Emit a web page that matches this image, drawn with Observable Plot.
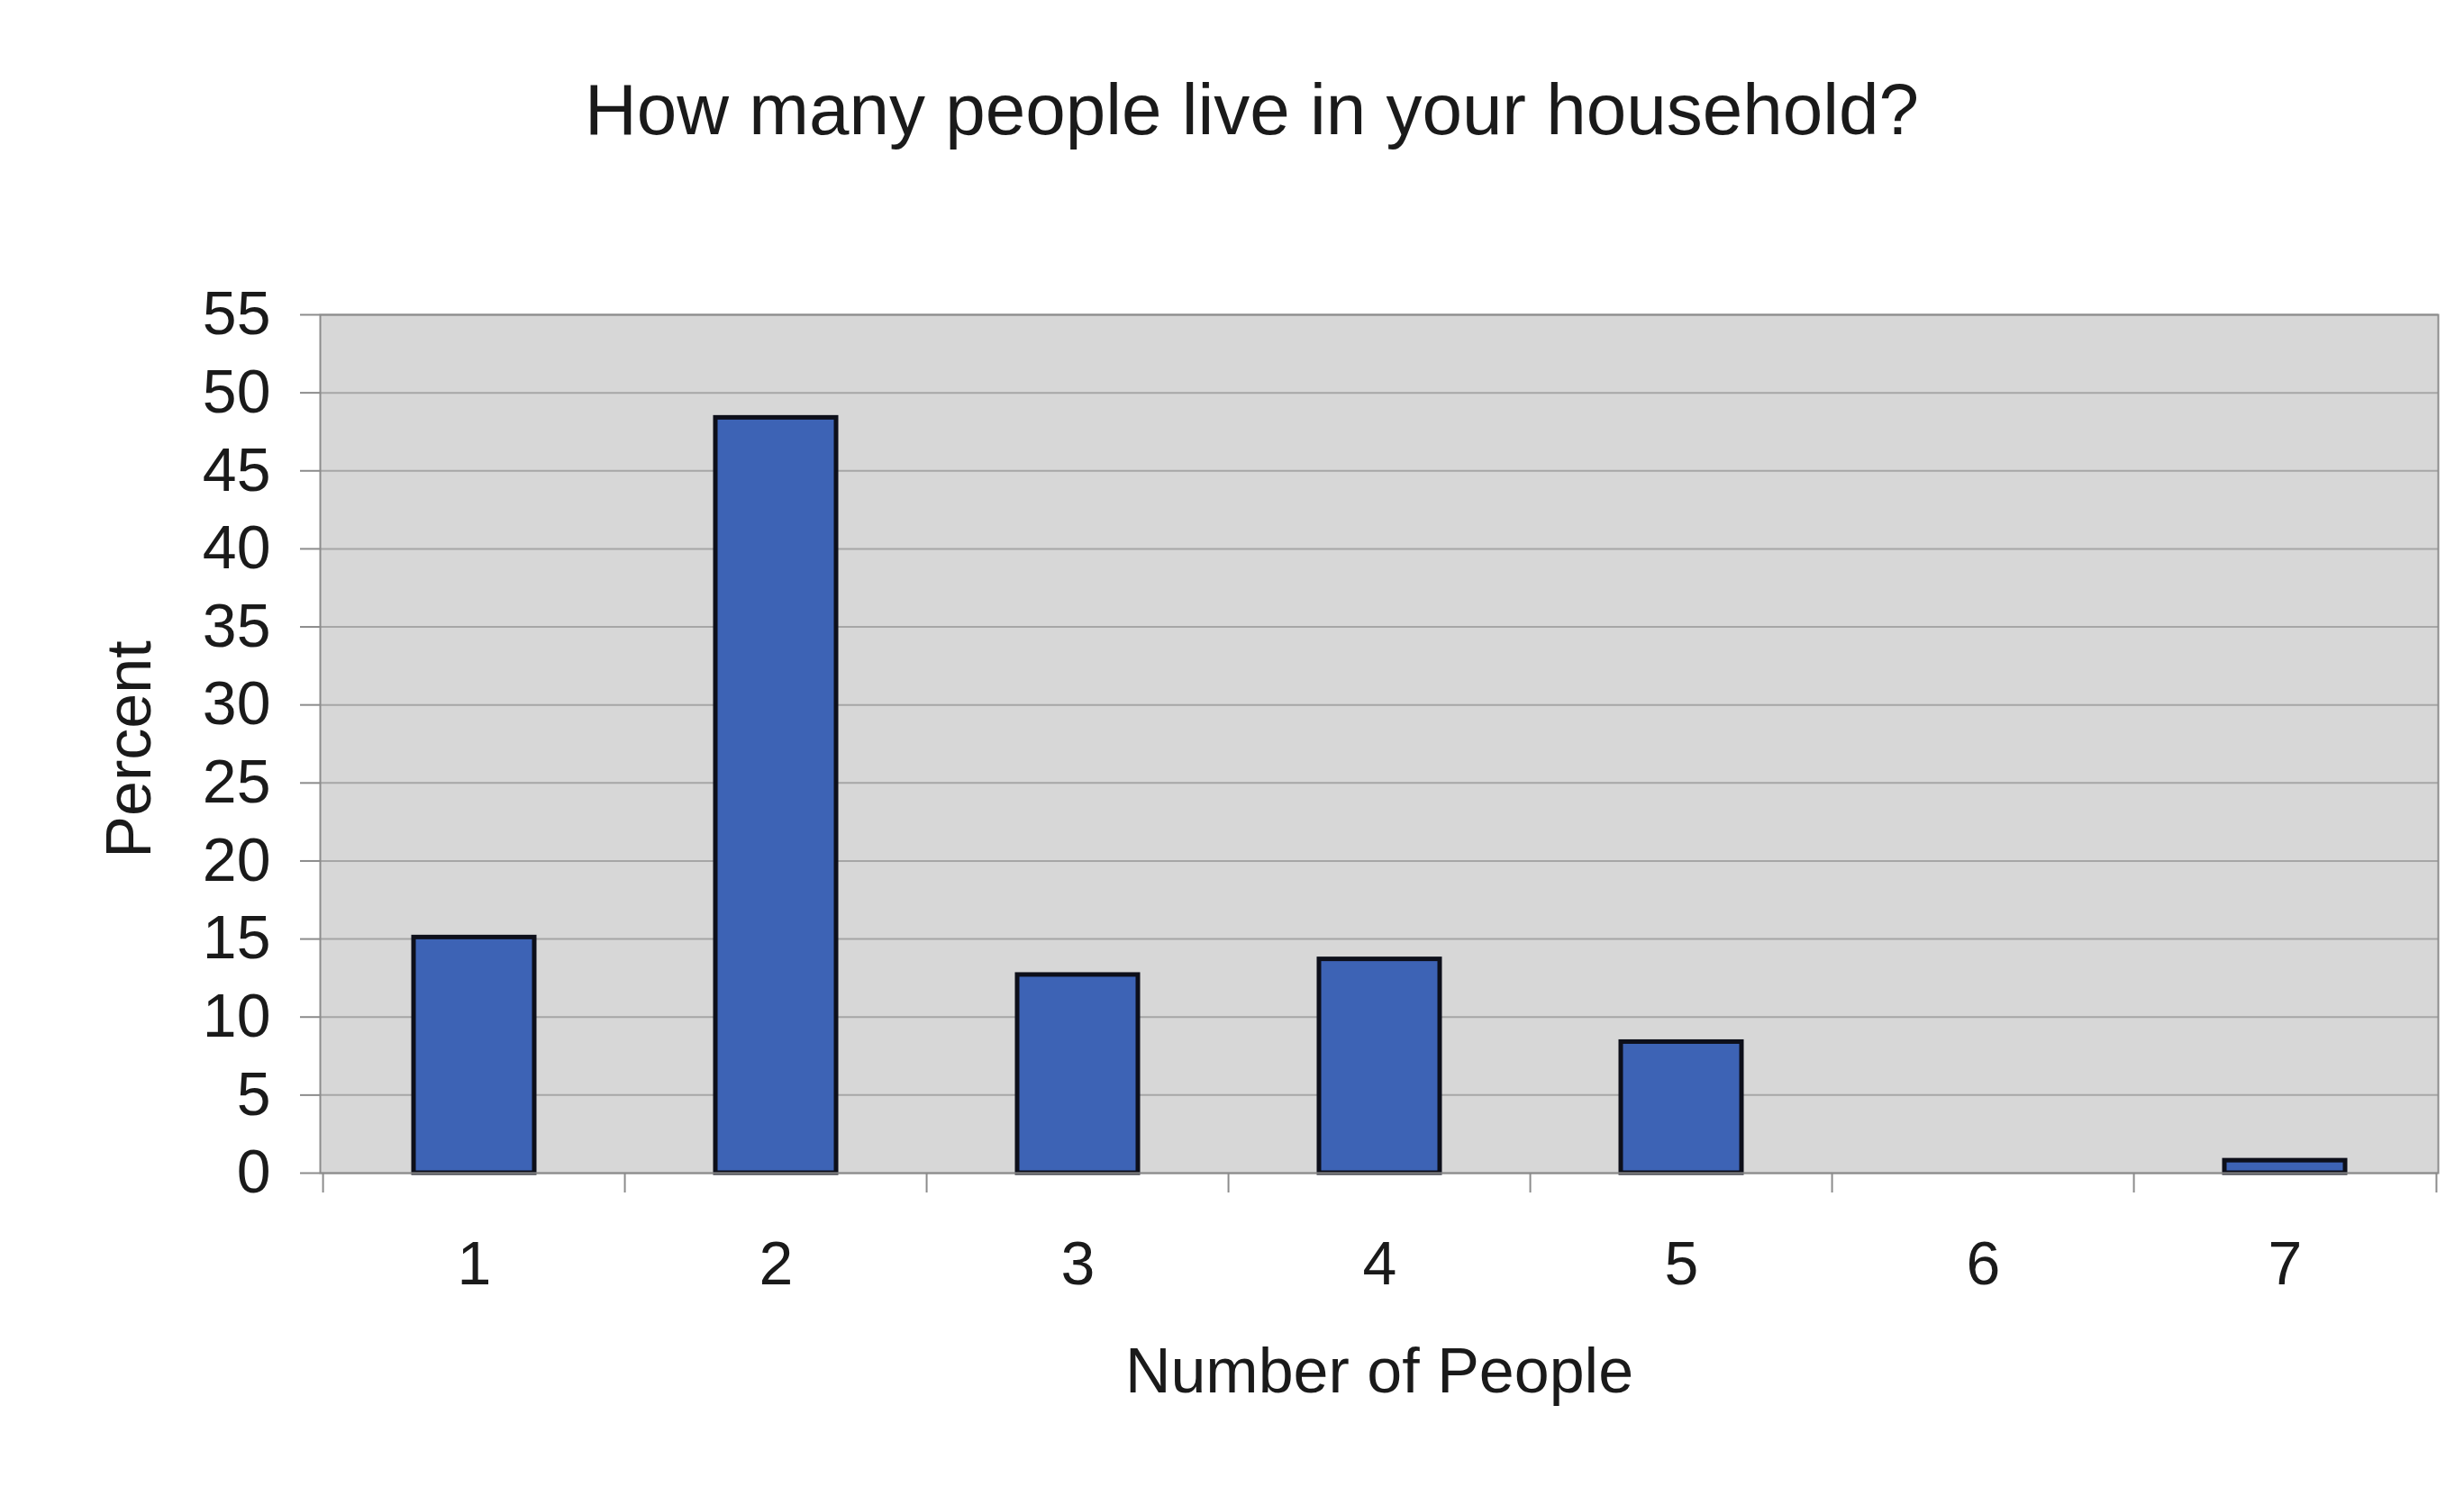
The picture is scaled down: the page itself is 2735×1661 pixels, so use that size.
<!DOCTYPE html>
<html><head><meta charset="utf-8">
<script src="https://cdn.jsdelivr.net/npm/d3@7"></script>
<script src="https://cdn.jsdelivr.net/npm/@observablehq/plot@0.6"></script>
<style>
html,body{margin:0;padding:0;background:#fff;overflow:hidden;}
#title{box-sizing:border-box;width:2735px;height:230px;padding-top:82px;padding-left:44px;text-align:center;font:80px/80px "Liberation Sans",Arial,sans-serif;color:#1a1a1a;white-space:nowrap;}
#chart svg{display:block;}
</style></head><body>
<div id="title"></div>
<div id="chart"></div>
<script>
const titleText = "How many people live in your household?";
const categories = ["1", "2", "3", "4", "5", "6", "7"];
const percents = [15.1, 48.4, 12.7, 13.7, 8.4, 0, 0.8];
const yTicks = [0, 5, 10, 15, 20, 25, 30, 35, 40, 45, 50, 55];
const xLabel = "Number of People";
const yLabel = "Percent";

document.getElementById("title").textContent = titleText;

const data = categories.map((c, i) => ({people: c, percent: percents[i]}));

const W = 2735, H = 1431, mL = 355, mR = 29, mT = 119, mB = 359;
const step = (W - mL - mR) / categories.length;
const axisGray = "#8c8c8c";

const chart = Plot.plot({
  width: W, height: H,
  marginLeft: mL, marginRight: mR, marginTop: mT, marginBottom: mB,
  style: {fontFamily: '"Liberation Sans", Arial, sans-serif', fontSize: "68px", color: "#1a1a1a", background: "#fff", overflow: "visible"},
  x: {domain: categories, paddingInner: 0.6, paddingOuter: 0.3},
  y: {domain: [0, 55]},
  marks: [
    Plot.frame({fill: "#d7d7d7"}),
    Plot.gridY(yTicks, {stroke: "#a6a6a6", strokeOpacity: 1, strokeWidth: 2}),
    Plot.barY(data, {x: "people", y: "percent", fill: "#3d63b5", stroke: "#0d0f1a", strokeWidth: 5}),
    Plot.frame({stroke: axisGray, strokeWidth: 2}),
    Plot.axisY(yTicks, {tickSize: 22, tickPadding: 33, stroke: axisGray, strokeWidth: 2, fontSize: 68, label: null}),
    Plot.text([yLabel], {frameAnchor: "left", rotate: -90, dx: -238, dy: 6, lineAnchor: "top", textAnchor: "middle", fontSize: 70, fill: "#1a1a1a"}),
    Plot.axisX({tickSize: 0, tickPadding: 75, fontSize: 68, label: null}),
    Plot.text([xLabel], {frameAnchor: "bottom", dy: 243, lineAnchor: "bottom", textAnchor: "middle", fontSize: 70, fill: "#1a1a1a"}),
    Plot.axisX({tickSize: 22, dx: -step / 2, stroke: axisGray, strokeWidth: 2, tickFormat: () => "", label: null}),
    Plot.axisX(["7"], {tickSize: 22, dx: step / 2, stroke: axisGray, strokeWidth: 2, tickFormat: () => "", label: null})
  ]
});
document.getElementById("chart").appendChild(chart);
</script>
</body></html>
